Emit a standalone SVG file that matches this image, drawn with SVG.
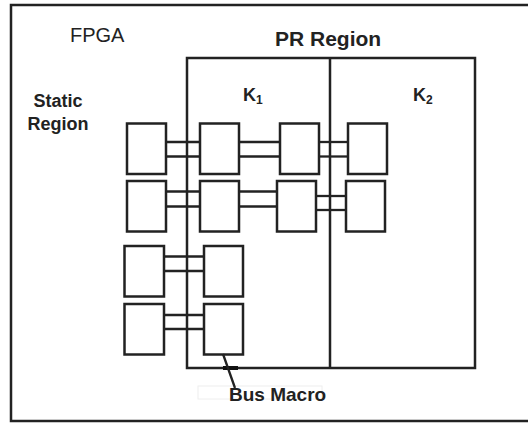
<svg xmlns="http://www.w3.org/2000/svg" width="528" height="423" viewBox="0 0 528 423">
<style>
.frame{fill:none;stroke:#222;stroke-width:2.5}
.blk{fill:#fff;stroke:#222;stroke-width:2.5}
.wire{stroke:#222;stroke-width:2.3;fill:none}
.t{font-family:"Liberation Sans",Arial,sans-serif;fill:#222}
.b{font-weight:bold}
</style>
<rect width="528" height="423" fill="#fff"/>
<g id="fpga">
<rect class="frame" x="11" y="5" width="530" height="416"/>
<text class="t" x="70" y="42" font-size="20">FPGA</text>
</g>
<g id="static-region">
<text class="t b" x="58" y="107" font-size="18" text-anchor="middle">Static</text>
<text class="t b" x="58" y="130" font-size="18" text-anchor="middle">Region</text>
</g>
<g id="pr-region">
<rect class="frame" x="187" y="58" width="288" height="310"/>
<text class="t b" x="275" y="46" font-size="21">PR Region</text>
</g>
<g id="k1">
<line class="frame" x1="330" y1="58" x2="330" y2="368"/>
<text class="t b" x="243" y="101" font-size="18">K<tspan font-size="12" dy="3">1</tspan></text>
</g>
<g id="k2">
<text class="t b" x="413" y="101" font-size="18">K<tspan font-size="12" dy="3">2</tspan></text>
</g>
<g id="connectors">
<line class="wire" x1="166" y1="142" x2="200" y2="142"/>
<line class="wire" x1="166" y1="156.5" x2="200" y2="156.5"/>
<line class="wire" x1="239" y1="142" x2="280" y2="142"/>
<line class="wire" x1="239" y1="156.5" x2="280" y2="156.5"/>
<line class="wire" x1="319" y1="142" x2="348" y2="142"/>
<line class="wire" x1="319" y1="156.5" x2="348" y2="156.5"/>
<line class="wire" x1="166" y1="191.5" x2="200" y2="191.5"/>
<line class="wire" x1="166" y1="206.5" x2="200" y2="206.5"/>
<line class="wire" x1="239" y1="191.5" x2="277" y2="191.5"/>
<line class="wire" x1="239" y1="206.5" x2="277" y2="206.5"/>
<line class="wire" x1="316" y1="196" x2="346" y2="196"/>
<line class="wire" x1="316" y1="210" x2="346" y2="210"/>
<line class="wire" x1="164" y1="256.5" x2="204" y2="256.5"/>
<line class="wire" x1="164" y1="271" x2="204" y2="271"/>
<line class="wire" x1="164" y1="315" x2="204" y2="315"/>
<line class="wire" x1="164" y1="329" x2="204" y2="329"/>
</g>
<g id="n-a1"><rect class="blk" x="127" y="123.5" width="39" height="50.5"/></g>
<g id="n-b1"><rect class="blk" x="200" y="123.5" width="39" height="50.5"/></g>
<g id="n-c1"><rect class="blk" x="280" y="123.5" width="39" height="50.5"/></g>
<g id="n-d1"><rect class="blk" x="348" y="123.5" width="39" height="50.5"/></g>
<g id="n-a2"><rect class="blk" x="127" y="181" width="39" height="50.5"/></g>
<g id="n-b2"><rect class="blk" x="200" y="181" width="39" height="50.5"/></g>
<g id="n-c2"><rect class="blk" x="277" y="181" width="39" height="50.5"/></g>
<g id="n-d2"><rect class="blk" x="346" y="181" width="39" height="50.5"/></g>
<g id="n-a3"><rect class="blk" x="124.5" y="246" width="39.5" height="50.5"/></g>
<g id="n-b3"><rect class="blk" x="204" y="246" width="39" height="50.5"/></g>
<g id="n-a4"><rect class="blk" x="124.5" y="304" width="39.5" height="50.5"/></g>
<g id="n-b4"><rect class="blk" x="204" y="304" width="39" height="50.5"/></g>
<g id="bus-macro">
<rect x="198" y="386" width="124" height="13" fill="none" stroke="#eee" stroke-width="1"/>
<line x1="223" y1="368" x2="238" y2="368" stroke="#111" stroke-width="4"/>
<line class="wire" x1="223" y1="354" x2="235" y2="388"/>
<text class="t b" x="229" y="401" font-size="19">Bus Macro</text>
</g>
</svg>
